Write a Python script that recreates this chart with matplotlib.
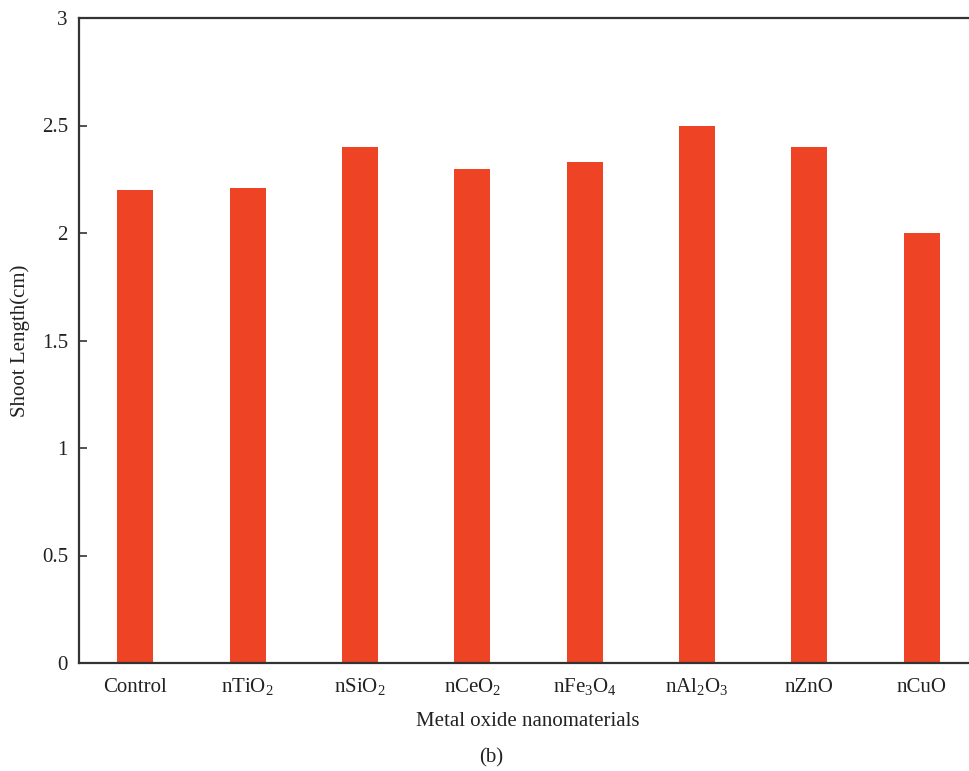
import matplotlib
matplotlib.use("Agg")
import matplotlib.pyplot as plt

categories = ["Control", "nTiO$_2$", "nSiO$_2$", "nCeO$_2$", "nFe$_3$O$_4$",
              "nAl$_2$O$_3$", "nZnO", "nCuO"]
shoot_length = [2.20, 2.21, 2.40, 2.30, 2.33, 2.50, 2.40, 2.00]
yticks = [0, 0.5, 1, 1.5, 2, 2.5, 3]
ytick_labels = ["0", "0.5", "1", "1.5", "2", "2.5", "3"]

plt.rcParams['font.family'] = ['Liberation Serif', 'DejaVu Serif']
plt.rcParams['mathtext.fontset'] = 'custom'
plt.rcParams['mathtext.rm'] = 'Liberation Serif'
plt.rcParams['mathtext.it'] = 'Liberation Serif:italic'
plt.rcParams['mathtext.bf'] = 'Liberation Serif:bold'
plt.rcParams['mathtext.default'] = 'rm'

W, H = 970, 771
fig = plt.figure(figsize=(W / 100, H / 100), dpi=100)
left, right, top, bottom = 79, 970, 18, 663
ax = fig.add_axes([left / W, 1 - bottom / H, (right - left) / W, (bottom - top) / H])

x = list(range(len(categories)))
ax.bar(x, shoot_length, width=0.32, color="#EE4325", zorder=2)

ax.set_xlim(-0.5, 7.43)
ax.set_ylim(0, 3)
ax.set_yticks(yticks)
ax.set_yticklabels(ytick_labels)
ax.set_xticks(x)

ax.spines["right"].set_visible(False)
for s in ["left", "bottom", "top"]:
    ax.spines[s].set_color("#333333")
    ax.spines[s].set_linewidth(1.6)

ax.tick_params(axis="y", direction="in", length=6, width=1.2, color="#333333",
               labelsize=15, pad=8, labelcolor="#222222")
ax.tick_params(axis="x", length=0, labelsize=15, pad=21, labelcolor="#222222")
ax.set_xticklabels(categories, va="baseline")

fig.text(20 / W, 1 - 341 / H, "Shoot Length(cm)", rotation=90, ha="center",
         va="center", fontsize=15, color="#222222")
fig.text(528 / W, 1 - 722 / H, "Metal oxide nanomaterials", ha="center",
         va="center", fontsize=15, color="#222222")
fig.text(491 / W, 1 - 758 / H, "(b)", ha="center", va="center", fontsize=15,
         color="#222222")

fig.savefig("out.png", dpi=100)
